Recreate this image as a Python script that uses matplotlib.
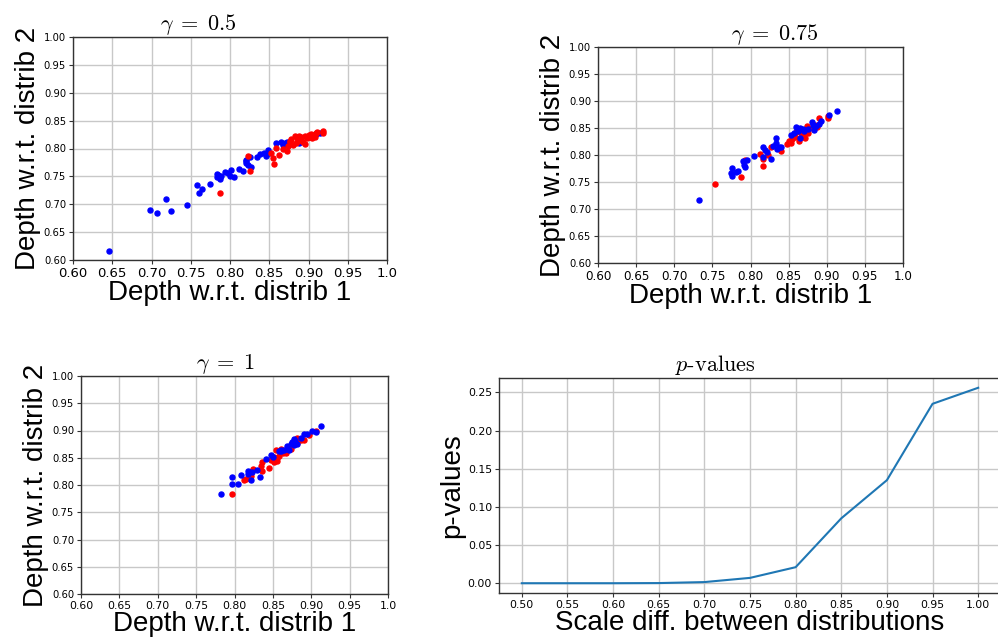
import numpy as np
import matplotlib
matplotlib.use("Agg")
import matplotlib.pyplot as plt

plt.rcParams['mathtext.fontset'] = 'cm'

# scatter data: (depth wrt distrib 1, depth wrt distrib 2)
# gamma = 0.5
blue_05_x = [0.646, 0.698, 0.707, 0.718, 0.725, 0.745, 0.758, 0.761, 0.764, 0.774,
             0.785, 0.787, 0.789, 0.794, 0.798, 0.801, 0.800, 0.805, 0.812, 0.817,
             0.820, 0.821, 0.823, 0.826, 0.827, 0.834, 0.838, 0.843, 0.846, 0.848,
             0.850, 0.859, 0.865, 0.867, 0.870, 0.872, 0.888, 0.909, 0.915, 0.820,
             0.784, 0.783]
blue_05_y = [0.617, 0.689, 0.684, 0.709, 0.688, 0.698, 0.734, 0.720, 0.728, 0.737,
             0.752, 0.745, 0.751, 0.758, 0.756, 0.762, 0.750, 0.748, 0.764, 0.760,
             0.774, 0.777, 0.770, 0.784, 0.767, 0.784, 0.790, 0.792, 0.787, 0.798,
             0.792, 0.810, 0.811, 0.807, 0.810, 0.812, 0.809, 0.826, 0.827, 0.780,
             0.748, 0.754]
red_05_x = [0.787, 0.823, 0.826, 0.852, 0.855, 0.856, 0.859, 0.862, 0.872, 0.874,
            0.877, 0.880, 0.883, 0.885, 0.886, 0.888, 0.890, 0.893, 0.896, 0.898,
            0.900, 0.902, 0.904, 0.906, 0.908, 0.911, 0.918, 0.919, 0.878, 0.884,
            0.891, 0.876, 0.868, 0.895, 0.903, 0.910]
red_05_y = [0.721, 0.786, 0.760, 0.792, 0.783, 0.772, 0.801, 0.789, 0.795, 0.804,
            0.814, 0.807, 0.822, 0.818, 0.814, 0.822, 0.816, 0.811, 0.808, 0.818,
            0.825, 0.820, 0.818, 0.824, 0.820, 0.829, 0.831, 0.828, 0.817, 0.809,
            0.821, 0.812, 0.800, 0.823, 0.826, 0.827]

# gamma = 0.75
blue_075_x = [0.732, 0.774, 0.776, 0.776, 0.781, 0.783, 0.790, 0.792, 0.793, 0.796,
              0.805, 0.816, 0.816, 0.819, 0.821, 0.827, 0.830, 0.833, 0.834, 0.835,
              0.838, 0.840, 0.853, 0.857, 0.860, 0.864, 0.865, 0.865, 0.869, 0.875,
              0.880, 0.882, 0.883, 0.890, 0.892, 0.903, 0.913, 0.862, 0.870, 0.886]
blue_075_y = [0.717, 0.766, 0.775, 0.761, 0.769, 0.771, 0.788, 0.782, 0.777, 0.790,
              0.799, 0.797, 0.814, 0.809, 0.806, 0.793, 0.817, 0.831, 0.822, 0.812,
              0.815, 0.814, 0.837, 0.840, 0.852, 0.846, 0.850, 0.831, 0.849, 0.849,
              0.861, 0.855, 0.847, 0.857, 0.863, 0.874, 0.882, 0.844, 0.845, 0.853]
red_075_x = [0.754, 0.787, 0.793, 0.813, 0.816, 0.816, 0.823, 0.827, 0.840, 0.848,
             0.853, 0.854, 0.858, 0.860, 0.864, 0.866, 0.871, 0.874, 0.876, 0.880,
             0.887, 0.890, 0.901, 0.902, 0.869, 0.884, 0.851]
red_075_y = [0.746, 0.760, 0.791, 0.802, 0.792, 0.779, 0.800, 0.815, 0.808, 0.821,
             0.822, 0.829, 0.834, 0.843, 0.826, 0.840, 0.831, 0.853, 0.841, 0.850,
             0.851, 0.868, 0.873, 0.869, 0.838, 0.856, 0.826]

# gamma = 1
blue_1_x = [0.782, 0.797, 0.797, 0.805, 0.808, 0.817, 0.818, 0.821, 0.823, 0.829,
            0.833, 0.841, 0.848, 0.850, 0.858, 0.861, 0.864, 0.868, 0.871, 0.873,
            0.877, 0.877, 0.882, 0.886, 0.890, 0.895, 0.901, 0.906, 0.913, 0.860,
            0.875, 0.879]
blue_1_y = [0.784, 0.814, 0.802, 0.802, 0.819, 0.826, 0.820, 0.809, 0.824, 0.828,
            0.814, 0.847, 0.855, 0.851, 0.863, 0.864, 0.865, 0.872, 0.865, 0.876,
            0.885, 0.873, 0.876, 0.887, 0.893, 0.894, 0.900, 0.897, 0.909, 0.862,
            0.879, 0.881]
red_1_x = [0.797, 0.812, 0.815, 0.822, 0.824, 0.836, 0.834, 0.836, 0.845, 0.847,
           0.852, 0.854, 0.855, 0.856, 0.861, 0.863, 0.867, 0.873, 0.881, 0.882,
           0.886, 0.891, 0.897, 0.906, 0.852, 0.858]
red_1_y = [0.783, 0.810, 0.811, 0.817, 0.829, 0.825, 0.835, 0.842, 0.832, 0.845,
           0.852, 0.864, 0.844, 0.849, 0.866, 0.859, 0.858, 0.866, 0.887, 0.877,
           0.882, 0.883, 0.892, 0.900, 0.843, 0.854]

# p-values vs scale difference
scale_diff = [0.50, 0.55, 0.60, 0.65, 0.70, 0.75, 0.80, 0.85, 0.90, 0.95, 1.00]
p_values = [0.0, 0.0, 0.0, 0.0002, 0.0015, 0.007, 0.021, 0.085, 0.135, 0.235, 0.256]

depth_ticks = [0.60, 0.65, 0.70, 0.75, 0.80, 0.85, 0.90, 0.95, 1.00]
depth_xlabels = ['0.60', '0.65', '0.70', '0.75', '0.80', '0.85', '0.90', '0.95', '1.0']
depth_ylabels = ['0.60', '0.65', '0.70', '0.75', '0.80', '0.85', '0.90', '0.95', '1.00']

W, H = 998, 637
fig = plt.figure(figsize=(W / 100, H / 100), dpi=100)


def box(l, t, r, b):
    # pixel box -> figure fraction
    return [l / W, 1 - b / H, (r - l) / W, (b - t) / H]


label_font = dict(family='Liberation Sans', fontsize=20)


def style(ax, xsize, ysize):
    ax.grid(True, color='#c8c8c8', linewidth=1.0)
    ax.set_axisbelow(True)
    for s in ax.spines.values():
        s.set_color('#333333')
        s.set_linewidth(1.0)
    ax.tick_params(length=3, width=0.8, color='#333333', pad=2)
    ax.tick_params(axis='x', labelsize=xsize)
    ax.tick_params(axis='y', labelsize=ysize)


def depth_panel(rect, bx, by, rx, ry, title, tx, xsize, red_top=True):
    ax = fig.add_axes(rect)
    if red_top:
        ax.scatter(bx, by, s=13, color='blue', zorder=3)
        ax.scatter(rx, ry, s=13, color='red', zorder=3)
    else:
        ax.scatter(rx, ry, s=13, color='red', zorder=3)
        ax.scatter(bx, by, s=13, color='blue', zorder=3)
    ax.set_xlim(0.6, 1.0)
    ax.set_ylim(0.6, 1.0)
    ax.set_xticks(depth_ticks)
    ax.set_xticklabels(depth_xlabels)
    ax.set_yticks(depth_ticks)
    ax.set_yticklabels(depth_ylabels)
    style(ax, xsize, 7.2)
    ax.set_xlabel('Depth w.r.t. distrib 1', labelpad=0, **label_font)
    ax.set_ylabel('Depth w.r.t. distrib 2', labelpad=2, **label_font)
    ax.set_title(title, x=tx, fontsize=16, pad=5)
    return ax


depth_panel(box(73, 37, 387, 260), blue_05_x, blue_05_y, red_05_x, red_05_y,
            r'$\gamma \;=\; 0.5$', 0.40, 9.5)
depth_panel(box(598, 47, 903, 263), blue_075_x, blue_075_y, red_075_x, red_075_y,
            r'$\gamma \;=\; 0.75$', 0.58, 8.6, red_top=False)
depth_panel(box(81, 376, 388, 594), blue_1_x, blue_1_y, red_1_x, red_1_y,
            r'$\gamma \;=\; 1$', 0.47, 7.8, red_top=False)

ax = fig.add_axes(box(499, 378, 1001, 593))
ax.plot(scale_diff, p_values, color='#1f77b4', linewidth=1.5)
ax.set_xticks(scale_diff)
ax.set_xticklabels(['%.2f' % v for v in scale_diff])
ax.set_yticks([0.0, 0.05, 0.10, 0.15, 0.20, 0.25])
ax.set_yticklabels(['0.00', '0.05', '0.10', '0.15', '0.20', '0.25'])
style(ax, 7.8, 7.8)
ax.set_xlabel('Scale diff. between distributions', labelpad=0, **label_font)
ax.set_ylabel('p-values', labelpad=2, **label_font)
ax.set_title(r'$p$-values', x=0.43, fontsize=16, pad=5, family='cmr10')

fig.savefig('out.png', dpi=100)
